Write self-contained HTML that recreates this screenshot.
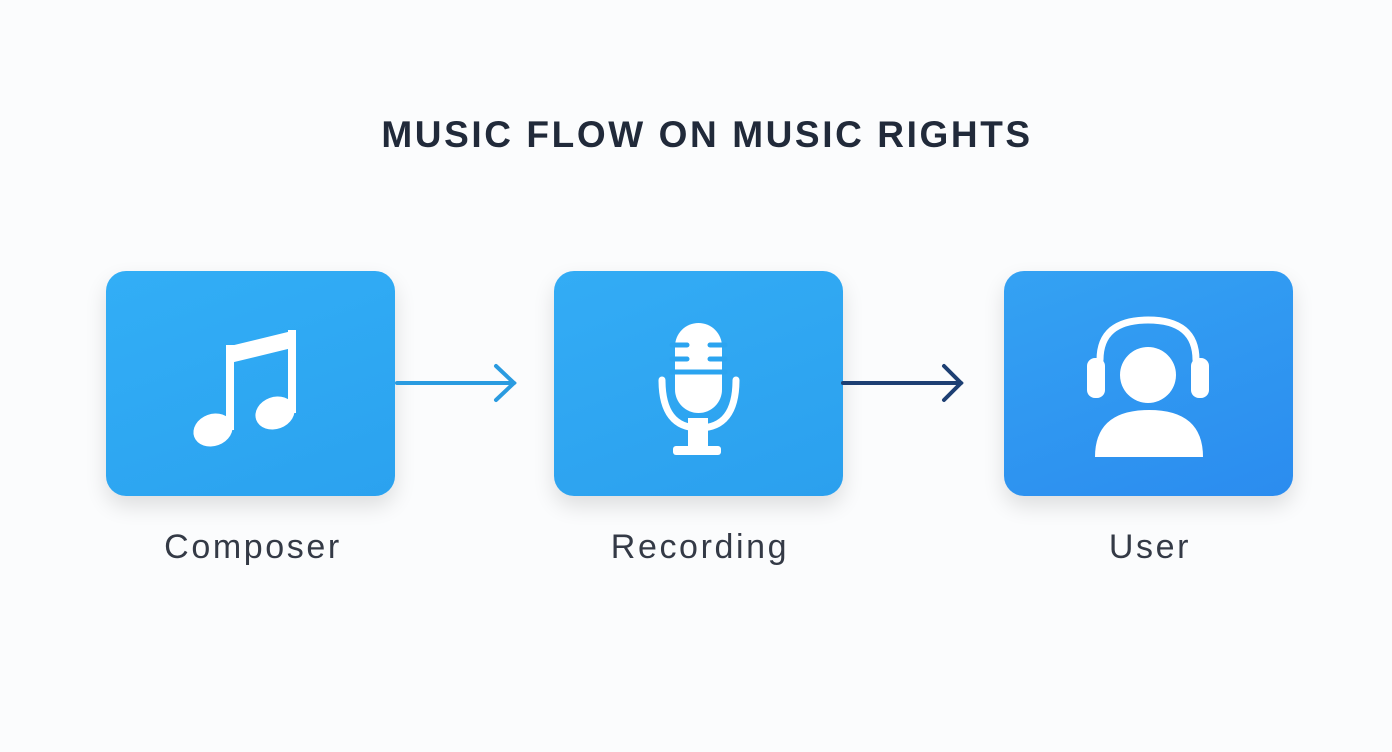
<!DOCTYPE html>
<html><head><style>
body{margin:0;width:1392px;height:752px;background:#fbfcfd;font-family:"Liberation Sans",sans-serif;position:relative;overflow:hidden}
.t{position:absolute;left:0;width:1414px;top:114px;text-align:center;font-size:37px;font-weight:bold;color:#212a3a;letter-spacing:2.6px}
.b{position:absolute;top:271px;width:289px;height:225px;border-radius:20px;box-shadow:0 10px 22px rgba(0,0,0,0.12)}
.l{position:absolute;top:528px;font-size:34px;color:#343a46;text-align:center;width:300px;letter-spacing:2.6px}
</style></head><body>
<div class="t">MUSIC FLOW ON MUSIC RIGHTS</div>
<div class="b" style="left:106px;background:linear-gradient(160deg,#32aef6,#2ba2ef)"></div>
<div class="b" style="left:554px;background:linear-gradient(160deg,#33acf5,#2ba0ee)"></div>
<div class="b" style="left:1004px;background:linear-gradient(160deg,#34a2f3,#2b8cef)"></div>
<div class="l" style="left:103px">Composer</div>
<div class="l" style="left:550px">Recording</div>
<div class="l" style="left:1000px">User</div>
<svg width="1392" height="752" style="position:absolute;left:0;top:0">
<g stroke-linecap="round" fill="none" stroke-width="4">
<line x1="397" y1="383" x2="514" y2="383" stroke="#2a9be0"/>
<polyline points="496,366 514,383 496,400" stroke="#2a9be0"/>
<line x1="843" y1="383" x2="961" y2="383" stroke="#1d3f73"/>
<polyline points="944,366 961,383 944,400" stroke="#1d3f73"/>
</g>
<g fill="#fff">
<ellipse cx="213" cy="430" rx="20" ry="16" transform="rotate(-20 213 430)"/>
<ellipse cx="275" cy="413" rx="20" ry="16" transform="rotate(-20 275 413)"/>
<rect x="226" y="345" width="8" height="85"/>
<rect x="288" y="330" width="8" height="83"/>
<polygon points="226,347 296,330 296,347 226,364"/>
<rect x="675" y="323" width="47" height="90" rx="23.5"/>
<rect x="688" y="418" width="20" height="30"/>
<rect x="673" y="446" width="48" height="9" rx="3"/>
<rect x="1087" y="358" width="18" height="40" rx="8"/>
<rect x="1191" y="358" width="18" height="40" rx="8"/>
<circle cx="1148" cy="375" r="28"/>
<path d="M1095,457 Q1095,410 1149,410 Q1203,410 1203,457 Z"/>
</g>
<g fill="none" stroke="#fff" stroke-width="7" stroke-linecap="round">
<path d="M662,380 Q662,428 699,428 Q736,428 736,380"/>
<path d="M1100,360 Q1100,320 1148,320 Q1196,320 1196,360"/>
</g>
<g stroke="#2ba4f0" stroke-width="5" stroke-linecap="round">
<line x1="672" y1="345" x2="687" y2="345"/><line x1="710" y1="345" x2="725" y2="345"/>
<line x1="672" y1="359" x2="687" y2="359"/><line x1="710" y1="359" x2="725" y2="359"/>
<line x1="672" y1="372" x2="725" y2="372"/>
</g>
</svg>
</body></html>
